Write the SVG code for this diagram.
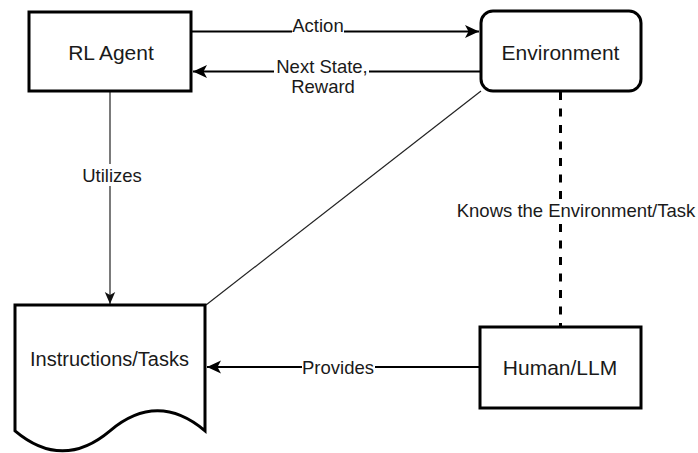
<svg xmlns="http://www.w3.org/2000/svg" width="698" height="453" viewBox="0 0 698 453">
  <style>
    .box { fill: #ffffff; stroke: #000000; stroke-width: 3; }
    .node-text { font-family: "Liberation Sans", Arial, sans-serif; font-size: 21px; fill: #1a1a1a; text-anchor: middle; }
    .edge-text { font-family: "Liberation Sans", Arial, sans-serif; font-size: 18.5px; fill: #1a1a1a; text-anchor: middle; }
    .thick { fill: none; stroke: #000000; stroke-width: 2.2; }
    .thin { fill: none; stroke: #222222; stroke-width: 1.2; }
    .dashed { fill: none; stroke: #000000; stroke-width: 3; stroke-dasharray: 8 8.5; }
    .label-bg { fill: #ffffff; stroke: none; }
  </style>
  <defs>
    <marker id="arrow" viewBox="0 0 14 14" refX="14" refY="7" markerWidth="14" markerHeight="14" markerUnits="userSpaceOnUse" orient="auto">
      <path d="M0,0.5 L14,7 L0,13.5 L3.5,7 Z" fill="#000000"/>
    </marker>
    <marker id="arrow-small" viewBox="0 0 12 12" refX="12" refY="6" markerWidth="12" markerHeight="12" markerUnits="userSpaceOnUse" orient="auto">
      <path d="M0,0.8 L12,6 L0,11.2 L3,6 Z" fill="#111111"/>
    </marker>
  </defs>
  <rect x="0" y="0" width="698" height="453" fill="#ffffff"/>

  <g id="connectors">
    <g id="edge-action">
      <line class="thick" x1="191" y1="31.5" x2="479" y2="31.5" marker-end="url(#arrow)"/>
      <rect class="label-bg" x="292" y="16" width="52" height="20"/>
      <text class="edge-text" x="318" y="31.5">Action</text>
    </g>
    <g id="edge-next-state">
      <line class="thick" x1="481" y1="71.5" x2="193" y2="71.5" marker-end="url(#arrow)"/>
      <rect class="label-bg" x="274" y="56" width="95" height="42"/>
      <text class="edge-text" x="322" y="73"><tspan x="322">Next State,</tspan><tspan x="323" y="92.5">Reward</tspan></text>
    </g>
    <g id="edge-utilizes">
      <line class="thin" x1="110" y1="91" x2="110" y2="304" marker-end="url(#arrow-small)"/>
      <rect class="label-bg" x="82" y="164" width="60" height="22"/>
      <text class="edge-text" x="112" y="181.5">Utilizes</text>
    </g>
    <g id="edge-env-instructions">
      <line class="thin" x1="481" y1="91" x2="206" y2="305"/>
    </g>
    <g id="edge-knows">
      <line class="dashed" x1="560.5" y1="92" x2="560.5" y2="326"/>
      <rect class="label-bg" x="454" y="200" width="244" height="21"/>
      <text class="edge-text" x="576" y="216.5">Knows the Environment/Task</text>
    </g>
    <g id="edge-provides">
      <line class="thick" x1="480" y1="367" x2="207" y2="367" marker-end="url(#arrow)"/>
      <rect class="label-bg" x="302" y="358" width="73" height="19"/>
      <text class="edge-text" x="338" y="373.5">Provides</text>
    </g>
  </g>

  <g id="node-rl-agent">
    <rect class="box" x="29" y="12" width="162" height="79"/>
    <text class="node-text" x="111" y="60">RL Agent</text>
  </g>
  <g id="node-environment">
    <rect class="box" x="481" y="11" width="160" height="80" rx="12" ry="12"/>
    <text class="node-text" x="560.5" y="59.5">Environment</text>
  </g>
  <g id="node-instructions">
    <path class="box" d="M15,305 L205,305 L205,430.8 Q157.5,390.8 110,430.8 Q62.5,470.8 15,430.8 Z"/>
    <text class="node-text" x="109.5" y="366" style="font-size:20px">Instructions/Tasks</text>
  </g>
  <g id="node-human-llm">
    <rect class="box" x="480" y="327" width="161" height="81"/>
    <text class="node-text" x="560" y="375">Human/LLM</text>
  </g>
</svg>
